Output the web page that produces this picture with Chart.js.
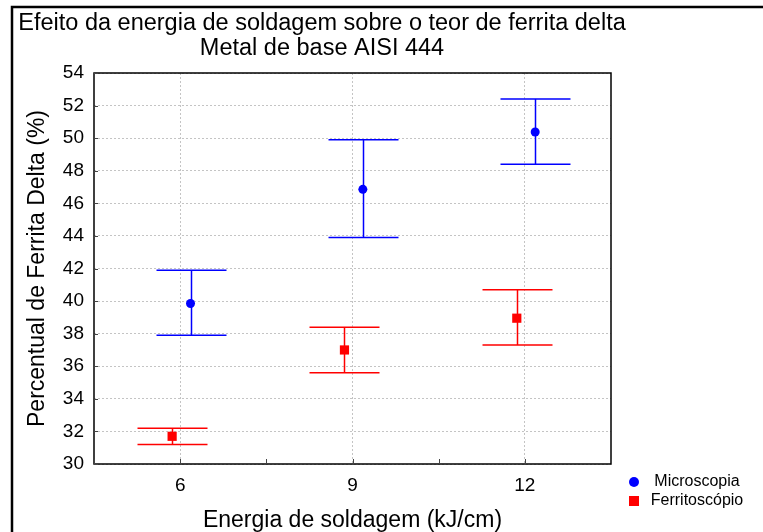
<!DOCTYPE html>
<html>
<head>
<meta charset="utf-8">
<title>Efeito da energia de soldagem sobre o teor de ferrita delta</title>
<script src="https://cdn.jsdelivr.net/npm/chart.js@4.4.1/dist/chart.umd.min.js"></script>
<style>
  html, body { margin: 0; padding: 0; background: #ffffff; }
  #wrap { width: 763px; height: 532px; position: relative; }
</style>
</head>
<body>
<div id="wrap"><canvas id="ferritaChart"></canvas></div>
<script>
// Energia de soldagem (kJ/cm)
const energia = [6, 9, 12];
const xTickLabels = ["6", "9", "12"];

// Microscopia: media e limites do intervalo
const microMedia = [39.85, 46.86, 50.38];
const microInf = [37.9, 43.9, 48.4];
const microSup = [41.9, 49.9, 52.4];

// Ferritoscopio: media e limites do intervalo
const ferriMedia = [31.7, 37.0, 38.95];
const ferriInf = [31.2, 35.6, 37.3];
const ferriSup = [32.2, 38.4, 40.7];

const yTicks = [30, 32, 34, 36, 38, 40, 42, 44, 46, 48, 50, 52, 54];

document.addEventListener("DOMContentLoaded", function () {
  const ctx = document.getElementById("ferritaChart").getContext("2d");
  const fontFamily = "'Liberation Sans', Arial, Helvetica, sans-serif";

  // small horizontal shift so both series don't sit on top of each other
  const microShift = 0.18;
  const ferriShift = -0.14;

  function points(values, shift) {
    return values.map((v, i) => ({ x: energia[i] + shift, y: v }));
  }

  // error bars, drawn under the markers
  const errorBars = {
    id: "errorBars",
    beforeDatasetsDraw(chart) {
      const c = chart.ctx;
      const xs = chart.scales.x;
      const ys = chart.scales.y;
      chart.data.datasets.forEach((ds) => {
        c.save();
        c.strokeStyle = ds.barColor;
        c.lineWidth = 1.5;
        ds.data.forEach((p, i) => {
          const px = Math.round(xs.getPixelForValue(p.x)) + 0.5;
          const top = ys.getPixelForValue(ds.upper[i]);
          const bot = ys.getPixelForValue(ds.lower[i]);
          c.beginPath();
          c.moveTo(px, top);
          c.lineTo(px, bot);
          c.moveTo(px - 35, top);
          c.lineTo(px + 35, top);
          c.moveTo(px - 35, bot);
          c.lineTo(px + 35, bot);
          c.stroke();
        });
        c.restore();
      });
    }
  };

  // frame, titles, inner ticks and legend
  const decorations = {
    id: "decorations",
    afterDraw(chart) {
      const c = chart.ctx;
      const a = chart.chartArea;
      const xs = chart.scales.x;
      const ys = chart.scales.y;
      c.save();

      // plot box
      c.strokeStyle = "#000";
      c.lineWidth = 1.5;
      c.strokeRect(a.left, a.top, a.right - a.left, a.bottom - a.top);

      // inward ticks
      c.strokeStyle = "#444";
      c.lineWidth = 1;
      c.beginPath();
      xs.ticks.forEach((t) => {
        const px = Math.round(xs.getPixelForValue(t.value)) + 0.5;
        c.moveTo(px, a.bottom);
        c.lineTo(px, a.bottom - 5);
      });
      ys.ticks.forEach((t) => {
        const py = Math.round(ys.getPixelForValue(t.value)) + 0.5;
        c.moveTo(a.left, py);
        c.lineTo(a.left + 4, py);
      });
      c.stroke();

      // outer frame (left and top only, the rest is cut off)
      c.strokeStyle = "#000";
      c.lineWidth = 2.5;
      c.beginPath();
      c.moveTo(12, 540);
      c.lineTo(12, 7);
      c.lineTo(770, 7);
      c.stroke();

      // title
      c.fillStyle = "#000";
      c.font = "23.5px " + fontFamily;
      c.textAlign = "center";
      c.textBaseline = "alphabetic";
      c.fillText("Efeito da energia de soldagem sobre o teor de ferrita delta", 322, 30);
      c.fillText("Metal de base AISI 444", 322, 55);

      // axis titles
      c.font = "23px " + fontFamily;
      c.fillText("Energia de soldagem (kJ/cm)", (a.left + a.right) / 2, 527);
      c.save();
      c.translate(44, (a.top + a.bottom) / 2);
      c.rotate(-Math.PI / 2);
      c.fillText("Percentual de Ferrita Delta (%)", 0, 0);
      c.restore();

      // legend
      c.font = "16px " + fontFamily;
      c.textBaseline = "middle";
      c.fillStyle = "#0000ff";
      c.beginPath();
      c.arc(634, 482, 5, 0, Math.PI * 2);
      c.fill();
      c.fillStyle = "#ff0000";
      c.fillRect(629, 496, 10, 10);
      c.fillStyle = "#000";
      c.fillText(chart.data.datasets[0].label, 697, 482);
      c.fillText(chart.data.datasets[1].label, 697, 501);

      c.restore();
    }
  };

  const chartData = {
    datasets: [
      {
        label: "Microscopia",
        data: points(microMedia, microShift),
        upper: microSup,
        lower: microInf,
        barColor: "#0000ff",
        backgroundColor: "#0000ff",
        borderColor: "#0000ff",
        pointStyle: "circle",
        pointRadius: 4.5,
        pointBorderWidth: 0
      },
      {
        label: "Ferritoscópio",
        data: points(ferriMedia, ferriShift),
        upper: ferriSup,
        lower: ferriInf,
        barColor: "#ff0000",
        backgroundColor: "#ff0000",
        borderColor: "#ff0000",
        pointStyle: "rect",
        pointRadius: 6.5,
        pointBorderWidth: 0
      }
    ]
  };

  const ferritaChart = new Chart(ctx, {
    type: "scatter",
    data: chartData,
    plugins: [errorBars, decorations],
    options: {
      responsive: true,
      maintainAspectRatio: false,
      animation: false,
      layout: { padding: { left: 0, top: 73, right: 152, bottom: 0 } },
      plugins: {
        legend: { display: false },
        title: { display: false },
        tooltip: { enabled: false }
      },
      scales: {
        x: {
          type: "linear",
          min: 4.5,
          max: 13.5,
          afterFit(scale) { scale.height = 68; },
          afterBuildTicks(scale) {
            const t = [];
            for (let v = 4.5; v <= 13.5 + 1e-9; v += 1.5) t.push({ value: v });
            scale.ticks = t;
          },
          ticks: {
            padding: 10,
            color: "#000",
            font: { family: fontFamily, size: 19 },
            maxRotation: 0,
            autoSkip: false,
            callback: function (value) {
              const i = energia.indexOf(value);
              return i >= 0 ? xTickLabels[i] : "";
            }
          },
          grid: {
            drawTicks: false,
            lineWidth: 1,
            color: function (c) {
              return c.tick && energia.indexOf(c.tick.value) >= 0 ? "#c4c4c4" : "rgba(0,0,0,0)";
            }
          },
          border: { display: false, dash: [2, 2] }
        },
        y: {
          min: 30,
          max: 54,
          afterFit(scale) { scale.width = 94; },
          afterBuildTicks(scale) {
            scale.ticks = yTicks.map((v) => ({ value: v }));
          },
          ticks: {
            padding: 10,
            color: "#000",
            font: { family: fontFamily, size: 19 }
          },
          grid: {
            drawTicks: false,
            lineWidth: 1,
            color: "#c4c4c4"
          },
          border: { display: false, dash: [2, 2] }
        }
      }
    }
  });
});
</script>
</body>
</html>
